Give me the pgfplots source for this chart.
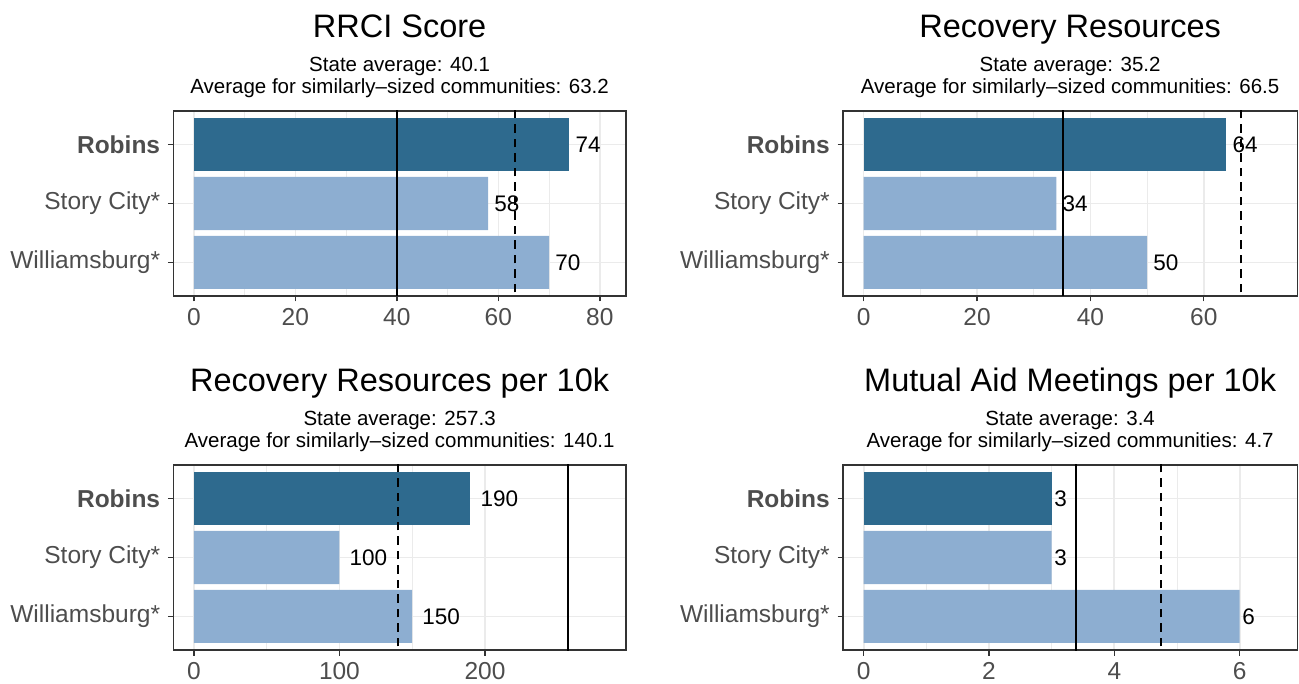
\documentclass[border=0pt]{standalone}
\usepackage{fontspec}
\setmainfont{Liberation Sans}
\usepackage{pgfplots}
\pgfplotsset{compat=1.18}
\definecolor{darkbar}{HTML}{2E6A8E}
\definecolor{lightbar}{HTML}{8DAED1}
\definecolor{gridc}{HTML}{EBEBEB}
\definecolor{boxc}{HTML}{333333}
\definecolor{tickc}{HTML}{4D4D4D}
\newcommand\ticksize{\fontsize{24.5}{29}\selectfont}
\newcommand\labsize{\fontsize{22.5}{27}\selectfont}
\newcommand\titsize{\fontsize{32.5}{38}\selectfont}
\newcommand\subsize{\fontsize{20.5}{24}\selectfont}
\pgfplotsset{
  /pgf/number format/assume math mode=true,
  panel/.style={
    scale only axis, height=185pt, anchor=south west,
    ymin=0.43, ymax=3.57,
    ytick={1,2,3}, yticklabels={Williamsburg*,Story City*,\textbf{Robins}},
    xmajorgrids, ymajorgrids, xminorgrids, minor x tick num=1,
    major grid style={gridc, line width=1.7pt},
    minor grid style={gridc, line width=0.9pt},
    axis line style={boxc, line width=1.4pt},
    tick align=outside, tick pos=left, major tick length=5.5pt, minor tick length=0pt,
    every tick/.style={boxc, line width=1.4pt},
    every tick label/.append style={font=\ticksize, text=tickc},
    xticklabel style={anchor=north, inner sep=0pt, yshift=-6.5pt},
    yticklabel style={anchor=east, inner sep=0pt, xshift=-7.5pt},
    clip mode=individual,
  },
  vbar/.style={xbar, bar width=0.9, bar shift=0pt, draw=none, fill=#1,
    point meta=x, nodes near coords={\pgfmathprintnumber{\pgfplotspointmeta}},
    every node near coord/.append style={font=\labsize, text=black, anchor=west, inner sep=0pt}},
  solidv/.style={black, line width=2pt, forget plot},
  dashv/.style={black, line width=2pt, dash pattern=on 8.5pt off 6pt, forget plot},
}
\begin{document}
\begin{tikzpicture}
\path[use as bounding box] (0pt,0pt) rectangle (1299pt,683pt);
% Panel 1
\begin{axis}[panel, at={(173.3pt,387pt)}, width=452.7pt, xmin=-4.05, xmax=85.15, xtick={0,20,40,60,80}]
\addplot[vbar=darkbar, every node near coord/.append style={xshift=6pt}] coordinates {(74,3)};
\addplot[vbar=lightbar, every node near coord/.append style={xshift=6pt}] coordinates {(58,2) (70,1)};
\addplot[solidv] coordinates {(40.1,0) (40.1,4)};
\addplot[dashv] coordinates {(63.2,0) (63.2,4)};
\node[anchor=base, font=\titsize] at (rel axis cs:0.5,1) [yshift=73.5pt] {RRCI Score};
\node[anchor=base, font=\subsize] at (rel axis cs:0.5,1) [yshift=39.5pt] {State average: 40.1};
\node[anchor=base, font=\subsize] at (rel axis cs:0.5,1) [yshift=17pt] {Average for similarly–sized communities: 63.2};
\end{axis}
% Panel 2
\begin{axis}[panel, at={(843pt,387pt)}, width=454.3pt, xmin=-3.64, xmax=76.5, xtick={0,20,40,60}]
\addplot[vbar=darkbar, every node near coord/.append style={xshift=6pt}] coordinates {(64,3)};
\addplot[vbar=lightbar, every node near coord/.append style={xshift=6pt}] coordinates {(34,2) (50,1)};
\addplot[solidv] coordinates {(35.2,0) (35.2,4)};
\addplot[dashv] coordinates {(66.5,0) (66.5,4)};
\node[anchor=base, font=\titsize] at (rel axis cs:0.5,1) [yshift=73.5pt] {Recovery Resources};
\node[anchor=base, font=\subsize] at (rel axis cs:0.5,1) [yshift=39.5pt] {State average: 35.2};
\node[anchor=base, font=\subsize] at (rel axis cs:0.5,1) [yshift=17pt] {Average for similarly–sized communities: 66.5};
\end{axis}
% Panel 3
\begin{axis}[panel, at={(173.3pt,33pt)}, width=452.7pt, xmin=-14.1, xmax=296.8, xtick={0,100,200}]
\addplot[vbar=darkbar, every node near coord/.append style={xshift=10pt}] coordinates {(190,3)};
\addplot[vbar=lightbar, every node near coord/.append style={xshift=10pt}] coordinates {(100,2) (150,1)};
\addplot[solidv] coordinates {(257.3,0) (257.3,4)};
\addplot[dashv] coordinates {(140.1,0) (140.1,4)};
\node[anchor=base, font=\titsize] at (rel axis cs:0.5,1) [yshift=73.5pt] {Recovery Resources per 10k};
\node[anchor=base, font=\subsize] at (rel axis cs:0.5,1) [yshift=39.5pt] {State average: 257.3};
\node[anchor=base, font=\subsize] at (rel axis cs:0.5,1) [yshift=17pt] {Average for similarly–sized communities: 140.1};
\end{axis}
% Panel 4
\begin{axis}[panel, at={(843pt,33pt)}, width=454.3pt, xmin=-0.33, xmax=6.92, xtick={0,2,4,6}]
\addplot[vbar=darkbar, every node near coord/.append style={xshift=2.5pt}] coordinates {(3,3)};
\addplot[vbar=lightbar, every node near coord/.append style={xshift=2.5pt}] coordinates {(3,2) (6,1)};
\addplot[solidv] coordinates {(3.39,0) (3.39,4)};
\addplot[dashv] coordinates {(4.74,0) (4.74,4)};
\node[anchor=base, font=\titsize] at (rel axis cs:0.5,1) [yshift=73.5pt] {Mutual Aid Meetings per 10k};
\node[anchor=base, font=\subsize] at (rel axis cs:0.5,1) [yshift=39.5pt] {State average: 3.4};
\node[anchor=base, font=\subsize] at (rel axis cs:0.5,1) [yshift=17pt] {Average for similarly–sized communities: 4.7};
\end{axis}
\end{tikzpicture}
\end{document}
